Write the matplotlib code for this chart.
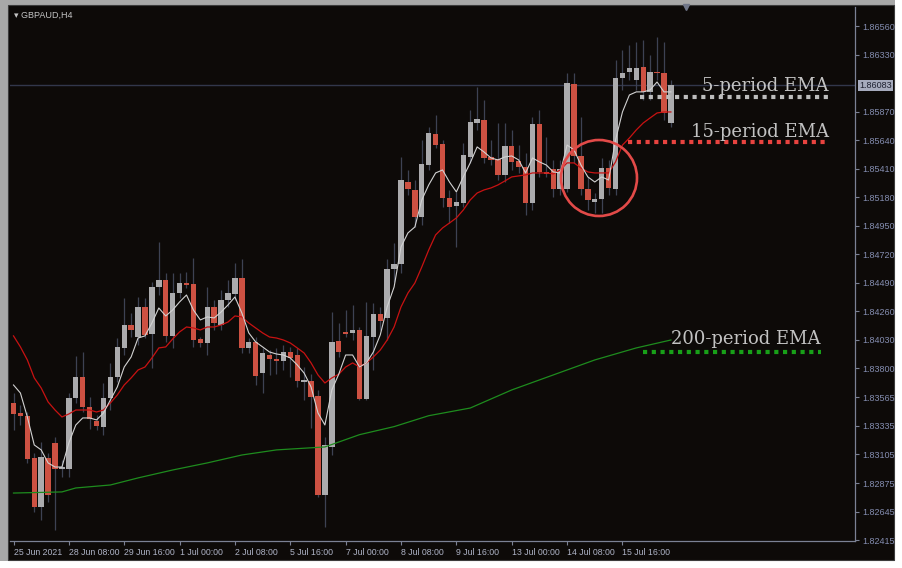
import matplotlib
matplotlib.use('Agg')
import matplotlib.pyplot as plt
from matplotlib.patches import Rectangle, Circle
from matplotlib.transforms import IdentityTransform, blended_transform_factory
import numpy as np

# ---------------- data (GBPAUD H4) ----------------
opens = [1.83521, 1.83440, 1.83416, 1.83077, 1.82682, 1.83077, 1.83198, 1.82988, 1.82988, 1.83561,
         1.83731, 1.83488, 1.83376, 1.83327, 1.83561, 1.83731, 1.83965, 1.84150, 1.84053, 1.84296,
         1.84078, 1.84457, 1.84513, 1.84062, 1.84408, 1.84489, 1.84481, 1.84037, 1.84005, 1.84296,
         1.84150, 1.84352, 1.84400, 1.84529, 1.83965, 1.84013, 1.83762, 1.83908, 1.83876, 1.83860,
         1.83932, 1.83908, 1.83690, 1.83698, 1.83577, 1.82778, 1.83166, 1.84021, 1.84094, 1.84086,
         1.84110, 1.83553, 1.84053, 1.84239, 1.84207, 1.84602, 1.84643, 1.85304, 1.85240, 1.85022,
         1.85441, 1.85692, 1.85611, 1.85175, 1.85111, 1.85135, 1.85506, 1.85780, 1.85805, 1.85506,
         1.85490, 1.85361, 1.85595, 1.85474, 1.85425, 1.85135, 1.85772, 1.85385, 1.85409, 1.85248,
         1.85248, 1.86095, 1.85514, 1.85248, 1.85143, 1.85167, 1.85417, 1.85248, 1.86144, 1.86192,
         1.86127, 1.86232, 1.86031, 1.86192, 1.86184, 1.85780]
highs = [1.83601, 1.83505, 1.83448, 1.83117, 1.83206, 1.83117, 1.83246, 1.83061, 1.83601, 1.83900,
         1.83932, 1.83569, 1.83424, 1.83682, 1.83844, 1.84045, 1.84368, 1.84247, 1.84376, 1.84368,
         1.84497, 1.84820, 1.84570, 1.84570, 1.84570, 1.84578, 1.84691, 1.84053, 1.84457, 1.84352,
         1.84433, 1.84513, 1.84651, 1.84683, 1.84045, 1.84053, 1.83965, 1.83948, 1.83965, 1.83989,
         1.83973, 1.83965, 1.83811, 1.83753, 1.83626, 1.83246, 1.84255, 1.84166, 1.84271, 1.84312,
         1.84134, 1.84336, 1.84328, 1.84296, 1.84683, 1.84812, 1.85506, 1.85401, 1.85320, 1.85643,
         1.85748, 1.85845, 1.85643, 1.85240, 1.85224, 1.85619, 1.85885, 1.86071, 1.85966, 1.85643,
         1.85780, 1.85780, 1.85724, 1.85602, 1.85538, 1.85829, 1.85885, 1.85667, 1.85482, 1.85482,
         1.86184, 1.86184, 1.85829, 1.85345, 1.85215, 1.85498, 1.85482, 1.86289, 1.86370, 1.86410,
         1.86434, 1.86450, 1.86329, 1.86474, 1.86434, 1.86127]
lows = [1.83303, 1.83343, 1.83037, 1.82641, 1.82577, 1.82722, 1.82496, 1.82924, 1.82924, 1.83521,
        1.83448, 1.83311, 1.83303, 1.83263, 1.83464, 1.83690, 1.83908, 1.84053, 1.83989, 1.84045,
        1.83803, 1.84392, 1.84013, 1.83965, 1.84368, 1.84449, 1.83973, 1.83973, 1.83908, 1.84110,
        1.84110, 1.84296, 1.84352, 1.83924, 1.83924, 1.83666, 1.83601, 1.83747, 1.83753, 1.83787,
        1.83731, 1.83650, 1.83545, 1.83319, 1.82762, 1.82520, 1.83101, 1.83892, 1.84053, 1.84029,
        1.83545, 1.83545, 1.83787, 1.84110, 1.84029, 1.84497, 1.84570, 1.85199, 1.84941, 1.84957,
        1.85401, 1.85579, 1.85103, 1.84973, 1.84780, 1.85103, 1.85458, 1.85724, 1.85458, 1.85441,
        1.85320, 1.85304, 1.85401, 1.85377, 1.85038, 1.85078, 1.85345, 1.85345, 1.85183, 1.85199,
        1.85224, 1.85458, 1.85199, 1.85078, 1.85054, 1.85054, 1.85199, 1.85199, 1.86047, 1.86127,
        1.86047, 1.85966, 1.85966, 1.86127, 1.85805, 1.85748]
closes = [1.83432, 1.83416, 1.83069, 1.82682, 1.83085, 1.82778, 1.82988, 1.83004, 1.83561, 1.83731,
          1.83488, 1.83392, 1.83335, 1.83561, 1.83731, 1.83973, 1.84150, 1.84110, 1.84296, 1.84070,
          1.84457, 1.84513, 1.84062, 1.84408, 1.84489, 1.84473, 1.84029, 1.84005, 1.84296, 1.84166,
          1.84352, 1.84408, 1.84529, 1.83965, 1.84013, 1.83739, 1.83924, 1.83876, 1.83860, 1.83932,
          1.83884, 1.83698, 1.83706, 1.83569, 1.82778, 1.83182, 1.84013, 1.83932, 1.84078, 1.84110,
          1.83553, 1.84062, 1.84239, 1.84182, 1.84602, 1.84643, 1.85320, 1.85248, 1.85022, 1.85449,
          1.85700, 1.85602, 1.85175, 1.85103, 1.85143, 1.85522, 1.85788, 1.85813, 1.85498, 1.85482,
          1.85361, 1.85595, 1.85466, 1.85425, 1.85135, 1.85772, 1.85385, 1.85369, 1.85248, 1.85409,
          1.86103, 1.85514, 1.85248, 1.85159, 1.85167, 1.85417, 1.85256, 1.86144, 1.86184, 1.86224,
          1.86224, 1.86031, 1.86192, 1.86184, 1.85861, 1.86083]

ema5 = [1.83666, 1.83601, 1.83408, 1.83182, 1.83142, 1.83037, 1.83004, 1.83004, 1.83198, 1.83343,
        1.83400, 1.83400, 1.83384, 1.83440, 1.83545, 1.83650, 1.83811, 1.83892, 1.84045, 1.84062,
        1.84166, 1.84287, 1.84223, 1.84271, 1.84336, 1.84392, 1.84271, 1.84191, 1.84215, 1.84207,
        1.84255, 1.84312, 1.84376, 1.84247, 1.84086, 1.84013, 1.83973, 1.83932, 1.83916, 1.83908,
        1.83884, 1.83828, 1.83762, 1.83650, 1.83440, 1.83343, 1.83626, 1.83753, 1.83908, 1.83908,
        1.83811, 1.83844, 1.83932, 1.84070, 1.84296, 1.84457, 1.84780, 1.84893, 1.84941, 1.85159,
        1.85280, 1.85377, 1.85401, 1.85304, 1.85224, 1.85345, 1.85458, 1.85587, 1.85546, 1.85498,
        1.85482, 1.85506, 1.85514, 1.85482, 1.85377, 1.85498, 1.85466, 1.85441, 1.85385, 1.85377,
        1.85602, 1.85563, 1.85441, 1.85345, 1.85304, 1.85345, 1.85320, 1.85643, 1.85869, 1.86006,
        1.86031, 1.86031, 1.86047, 1.86111, 1.86031, 1.86031]
ema15 = [1.84062, 1.83973, 1.83868, 1.83723, 1.83642, 1.83529, 1.83464, 1.83408, 1.83432, 1.83464,
         1.83464, 1.83464, 1.83448, 1.83464, 1.83521, 1.83585, 1.83666, 1.83723, 1.83787, 1.83811,
         1.83884, 1.83965, 1.83973, 1.84037, 1.84094, 1.84134, 1.84126, 1.84110, 1.84134, 1.84134,
         1.84150, 1.84174, 1.84223, 1.84215, 1.84166, 1.84126, 1.84086, 1.84053, 1.84045, 1.84029,
         1.84005, 1.83965, 1.83924, 1.83844, 1.83747, 1.83682, 1.83723, 1.83753, 1.83811, 1.83844,
         1.83811, 1.83844, 1.83892, 1.83948, 1.84029, 1.84134, 1.84296, 1.84408, 1.84489, 1.84618,
         1.84755, 1.84877, 1.84933, 1.84973, 1.85014, 1.85078, 1.85159, 1.85215, 1.85240, 1.85256,
         1.85280, 1.85312, 1.85345, 1.85353, 1.85361, 1.85377, 1.85377, 1.85377, 1.85369, 1.85401,
         1.85458, 1.85458, 1.85417, 1.85385, 1.85377, 1.85377, 1.85377, 1.85466, 1.85602, 1.85659,
         1.85724, 1.85780, 1.85821, 1.85861, 1.85869, 1.85869]
ema200_bars = [0, 7, 9, 14, 18, 23, 28, 33, 38, 45, 50, 55, 60, 66, 72, 78, 84, 90, 95]
ema200 = [1.82794, 1.82803, 1.82835, 1.82859, 1.82916, 1.82980, 1.83037, 1.83101, 1.83142, 1.83166,
          1.83265, 1.83330, 1.83418, 1.83480, 1.83626, 1.83747, 1.83868, 1.83965, 1.84029]

current_price = 1.86083
ytick_values = [1.86560, 1.86330, 1.85870, 1.85640, 1.85410, 1.85180, 1.84950, 1.84720, 1.84490,
                1.84260, 1.84030, 1.83800, 1.83565, 1.83335, 1.83105, 1.82875, 1.82645, 1.82415]
xtick_bars = [0, 8, 16, 24, 32, 40, 48, 56, 64, 72, 80, 88]
xtick_labels = ['25 Jun 2021', '28 Jun 08:00', '29 Jun 16:00', '1 Jul 00:00', '2 Jul 08:00',
                '5 Jul 16:00', '7 Jul 00:00', '8 Jul 08:00', '9 Jul 16:00', '13 Jul 00:00',
                '14 Jul 08:00', '15 Jul 16:00']

# ---------------- figure ----------------
W, H = 903, 568
fig = plt.figure(figsize=(W / 100, H / 100), dpi=100, facecolor='white')


def fx(px):
    return px / W


def fy(py):
    return 1 - py / H


BG = '#0d0a08'
fig.add_artist(Rectangle((fx(0), fy(561)), fx(895), 561 / H, transform=fig.transFigure,
                         fc='#a8a8a8', ec='none', zorder=-20))
fig.add_artist(Rectangle((fx(8), fy(560)), fx(886), 555 / H, transform=fig.transFigure,
                         fc=BG, ec='#3c3c3c', lw=0.8, zorder=-19))

ax = fig.add_axes([fx(10), fy(541), 845 / W, 534 / H])
ax.set_facecolor(BG)
bar_px = 6.92
xmin = -3.5 / bar_px
ax.set_xlim(xmin, xmin + 845 / bar_px)
ax.set_ylim(1.82407, 1.86716)

n = len(opens)
x = np.arange(n)
o = np.array(opens)
c = np.array(closes)
hi = np.array(highs)
lo = np.array(lows)

RED = '#cd5142'
GRAY = '#ababad'
ax.axhline(current_price, color='#32374b', lw=1.0, zorder=1)
ax.vlines(x, lo, hi, color='#3d4253', lw=0.9, zorder=2)
colors = [GRAY if cc >= oo else RED for oo, cc in zip(o, c)]
heights = np.maximum(np.abs(c - o), 0.00008)
bottoms = np.minimum(o, c)
ax.bar(x, heights, bottom=bottoms, width=0.78, color=colors, linewidth=0, zorder=3)

ax.plot(x, ema15, color='#c81212', lw=0.9, zorder=4)
ax.plot(x, ema5, color='#d2d2d2', lw=0.8, zorder=5)
ax.plot(ema200_bars, ema200, color='#1e8c1e', lw=0.9, zorder=4)

# spines
for s in ['top', 'left']:
    ax.spines[s].set_visible(False)
for s in ['right', 'bottom']:
    ax.spines[s].set_color('#7b8194')
    ax.spines[s].set_linewidth(0.9)

ax.yaxis.tick_right()
ax.set_yticks(ytick_values)
ax.set_yticklabels([f'{v:.5f}' for v in ytick_values])
ax.tick_params(axis='y', direction='out', length=3, width=0.8, pad=2.5, color='#7b8194',
               labelsize=6.5, labelcolor='#848db0')
ax.set_xticks(xtick_bars)
ax.set_xticklabels(xtick_labels)
ax.tick_params(axis='x', direction='out', length=3, width=0.8, pad=2, color='#7b8194',
               labelsize=6.3, labelcolor='#aeb3c6')
for lbl in ax.get_xticklabels() + ax.get_yticklabels():
    lbl.set_fontfamily(['Liberation Sans', 'DejaVu Sans'])
for lbl in ax.get_xticklabels():
    lbl.set_horizontalalignment('left')

# current price box
tr = blended_transform_factory(ax.transAxes, ax.transData)
ax.text(1.0 + 4 / 845, current_price, f'{current_price:.5f}', transform=tr, ha='left', va='center',
        fontsize=6.5, color='#1e2130', family=['Liberation Sans', 'DejaVu Sans'],
        bbox=dict(boxstyle='square,pad=0.15', fc='#a6abbd', ec='none'), zorder=10, clip_on=False)

# chart title
fig.text(fx(14), fy(15), '\u25BE GBPAUD,H4', fontsize=6.5, color='#c4c4c4', va='center', ha='left',
         family=['Liberation Sans', 'DejaVu Sans'])
# chart shift marker at top
ax.plot([(686 - 13.5) / bar_px], [1.0], marker='v', ms=4, color='#707688',
        transform=blended_transform_factory(ax.transData, ax.transAxes), clip_on=False, zorder=10)

# annotations
txt_kw = dict(fontsize=13, color='#c2c2c2', family='DejaVu Serif', ha='right', va='baseline')
fig.text(fx(829), fy(91), '5-period EMA', **txt_kw)
fig.text(fx(829), fy(137), '15-period EMA', **txt_kw)
fig.text(fx(821), fy(344), '200-period EMA', **txt_kw)

dot_kw = dict(transform=fig.transFigure, lw=3.0, linestyle=(0, (1, 1.1)), dash_capstyle='butt',
              solid_capstyle='butt')
fig.add_artist(plt.Line2D([fx(640), fx(829)], [fy(97), fy(97)], color='#bdbdbd', **dot_kw))
fig.add_artist(plt.Line2D([fx(628), fx(829)], [fy(142), fy(142)], color='#e8433f', **dot_kw))
fig.add_artist(plt.Line2D([fx(643), fx(821)], [fy(352), fy(352)], color='#18a018', **dot_kw))

fig.add_artist(Circle((599, H - 178), 38, transform=IdentityTransform(), fill=False,
                      ec='#e24a48', lw=1.9, zorder=20))

fig.savefig('out.png', dpi=100, facecolor=fig.get_facecolor())
